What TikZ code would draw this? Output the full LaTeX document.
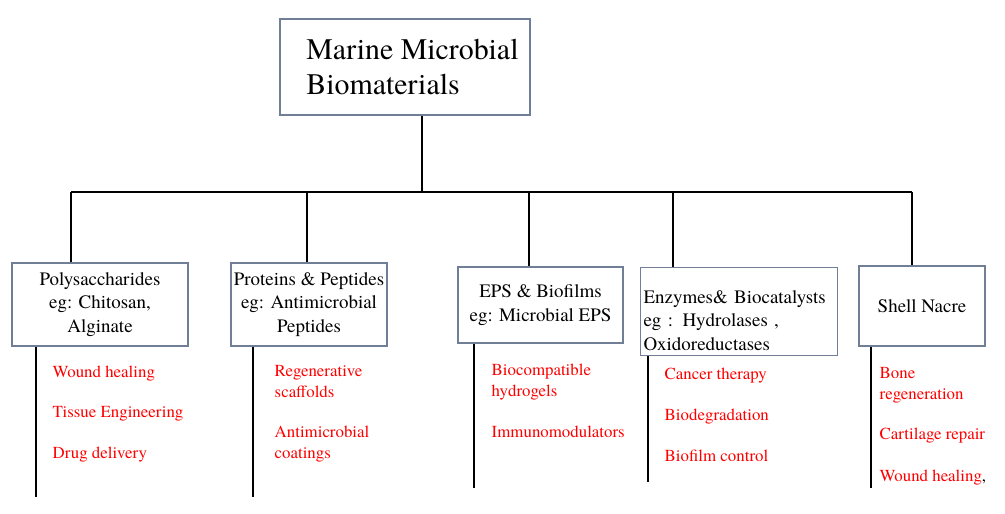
\documentclass[tikz,border=0pt]{standalone}
\usepackage{fontspec}
\setmainfont{texgyretermes}[Extension=.otf, UprightFont=*-regular, BoldFont=*-bold]
\usepackage{xcolor}
\usetikzlibrary{positioning,calc}
\definecolor{boxline}{RGB}{112,126,150}

\begin{document}
\begin{tikzpicture}[x=0.02cm, y=-0.02cm, line width=0.8pt,
  box/.style={draw=boxline, line width=0.6pt, rectangle, align=center, inner sep=1pt, font=\fontsize{10.8}{13.3}\selectfont},
  app/.style={text=red, anchor=base west, align=left, inner sep=0pt, font=\fontsize{9.6}{11.4}\selectfont}]
    \useasboundingbox (0,0) rectangle (1005,514);

    \node[box, minimum width=5cm, minimum height=1.92cm, align=left, font=\fontsize{17}{20.4}\selectfont] (A) at (405,67) {\hspace*{0.3cm}Marine Microbial\\\hspace*{0.3cm}Biomaterials};

    \node[box, minimum width=3.52cm, minimum height=1.66cm] (B) at (100,304.5) {Polysaccharides\\eg: Chitosan,\\Alginate};
    \node[box, minimum width=3.12cm, minimum height=1.66cm] (C) at (309,304.5) {Proteins \& Peptides\\eg: Antimicrobial\\Peptides};
    \node[box, minimum width=3.3cm, minimum height=1.52cm] (D) at (540.5,305) {EPS \& Biofilms\\eg: Microbial EPS};
    \node[box, anchor=north west, align=left, text width=3.82cm, inner xsep=0.06cm, inner ysep=3pt] (E) at (640,267) {\rule{0pt}{17.4pt}Enzymes\& Biocatalysts\\eg : Hydrolases ,\\Oxidoreductases};
    \node[box, minimum width=2.52cm, minimum height=1.6cm] (F) at (922,306) {Shell Nacre};

    \node[app] (B1) at (52,377) {Wound healing};
    \node[app] (B2) at (52,417) {Tissue Engineering};
    \node[app] (B3) at (52,458) {Drug delivery};

    \node[app] (C1) at (274,397) {Regenerative\\scaffolds};
    \node[app] (C2) at (274,458) {Antimicrobial\\coatings};

    \node[app] (D1) at (491,396) {Biocompatible\\hydrogels};
    \node[app] (D2) at (491,437) {Immunomodulators};

    \node[app] (E1) at (664,379) {Cancer therapy};
    \node[app] (E2) at (664,420) {Biodegradation};
    \node[app] (E3) at (664,461) {Biofilm control};

    \node[app] (F1) at (879,399) {Bone\\regeneration};
    \node[app] (F2) at (879,439) {Cartilage repair};
    \node[app] (F3) at (879,481) {Wound healing\textcolor{black}{,}};

    \coordinate (L) at (71,192);
    \coordinate (R) at (912,192);
    \coordinate (J) at (422,192);
    \coordinate (c2) at (307,192);
    \coordinate (c3) at (529,192);
    \coordinate (c4) at (673,192);

    \draw (J |- A.south) -- (J);
    \draw (L) -- (R);
    \draw (L) -- (L |- B.north);
    \draw (c2) -- (c2 |- C.north);
    \draw (c3) -- (c3 |- D.north);
    \draw (c4) -- (c4 |- E.north);
    \draw (R) -- (R |- F.north);

    \coordinate (b0) at (36,497);
    \coordinate (c0) at (253,497);
    \coordinate (d0) at (474,488);
    \coordinate (e0) at (648,482);
    \coordinate (f0) at (871,488);

    \draw (b0 |- B.south) -- (b0);
    \draw (c0 |- C.south) -- (c0);
    \draw (d0 |- D.south) -- (d0);
    \draw (e0 |- E.south) -- (e0);
    \draw (f0 |- F.south) -- (f0);
\end{tikzpicture}
\end{document}
